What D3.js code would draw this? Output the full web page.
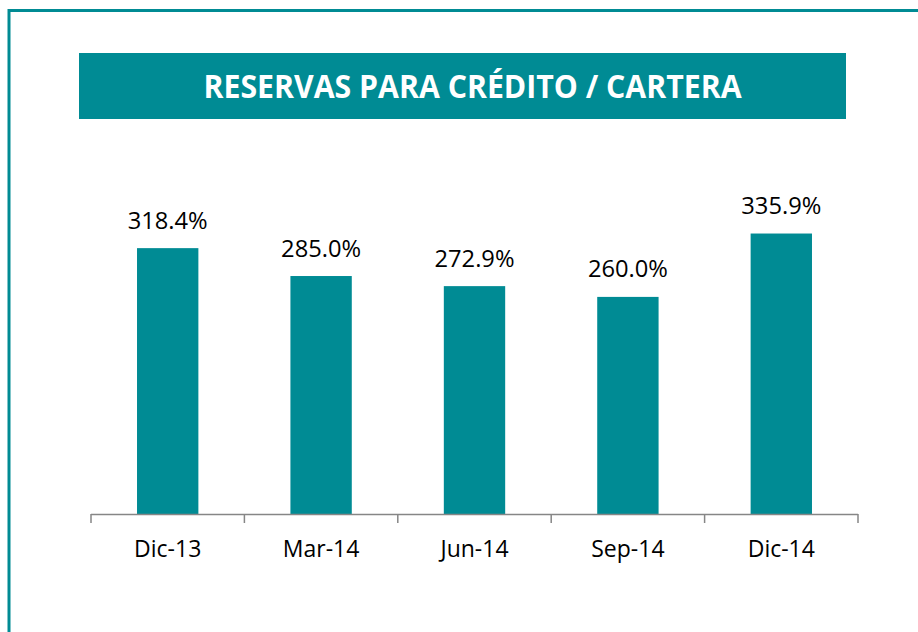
<!DOCTYPE html>
<html>
<head>
<meta charset="utf-8">
<script src="https://cdn.jsdelivr.net/npm/d3@7"></script>
<style>
  html, body { margin: 0; padding: 0; background: #fff; }
  svg { display: block; }
</style>
</head>
<body>
<script>
const categories = ["Dic-13", "Mar-14", "Jun-14", "Sep-14", "Dic-14"];
const values = [318.4, 285.0, 272.9, 260.0, 335.9];
const valueLabels = ["318.4%", "285.0%", "272.9%", "260.0%", "335.9%"];
const titleText = "RESERVAS PARA CRÉDITO / CARTERA";

const W = 918, H = 632;
const teal = "#008B94";
const svg = d3.select("body").append("svg").attr("width", W).attr("height", H);

// frame border (left + top)
svg.append("path")
  .attr("d", `M9,${H + 5} L9,10.5 L${W + 5},10.5`)
  .attr("fill", "none").attr("stroke", teal).attr("stroke-width", 3);

// title banner
svg.append("rect").attr("x", 79).attr("y", 53).attr("width", 767).attr("height", 66).attr("fill", teal);
svg.append("text")
  .attr("x", 472.5).attr("y", 98.3)
  .attr("text-anchor", "middle")
  .attr("font-family", "'Open Sans', 'Liberation Sans', sans-serif")
  .attr("font-weight", "bold")
  .attr("font-size", 32)
  .attr("fill", "#fff")
  .attr("textLength", 538).attr("lengthAdjust", "spacingAndGlyphs")
  .text(titleText);

const x = d3.scaleBand().domain(categories).range([91, 858]).paddingInner(0.6).paddingOuter(0.3);
const y = d3.scaleLinear().domain([0, 400]).range([514, 180]);

svg.selectAll("rect.bar").data(values).join("rect")
  .attr("class", "bar")
  .attr("x", (d, i) => x(categories[i]))
  .attr("width", x.bandwidth())
  .attr("y", d => y(d))
  .attr("height", d => y(0) - y(d))
  .attr("fill", teal);

svg.selectAll("text.val").data(values).join("text")
  .attr("class", "val")
  .attr("x", (d, i) => x(categories[i]) + x.bandwidth() / 2)
  .attr("y", d => y(d) - 19.5)
  .attr("text-anchor", "middle")
  .attr("font-family", "'Open Sans', 'Liberation Sans', sans-serif")
  .attr("font-size", 23)
  .attr("fill", "#000")
  .attr("textLength", 80).attr("lengthAdjust", "spacingAndGlyphs")
  .text((d, i) => valueLabels[i]);

// x axis with category boundary ticks
const axisG = svg.append("g");
const xs = d3.scalePoint().domain(d3.range(categories.length + 1)).range([91, 858]);
axisG.append("line").attr("x1", 91).attr("x2", 858).attr("y1", 514.5).attr("y2", 514.5)
  .attr("stroke", "#868686").attr("stroke-width", 1.5);
axisG.selectAll("line.tk").data(xs.domain()).join("line")
  .attr("class", "tk")
  .attr("x1", d => xs(d)).attr("x2", d => xs(d))
  .attr("y1", 514).attr("y2", 523)
  .attr("stroke", "#868686").attr("stroke-width", 1.5);
axisG.selectAll("text.cat").data(categories).join("text")
  .attr("class", "cat")
  .attr("x", d => x(d) + x.bandwidth() / 2)
  .attr("y", 556.7)
  .attr("text-anchor", "middle")
  .attr("font-family", "'Open Sans', 'Liberation Sans', sans-serif")
  .attr("font-size", 23)
  .attr("fill", "#000")
  .text(d => d);
</script>
</body>
</html>
